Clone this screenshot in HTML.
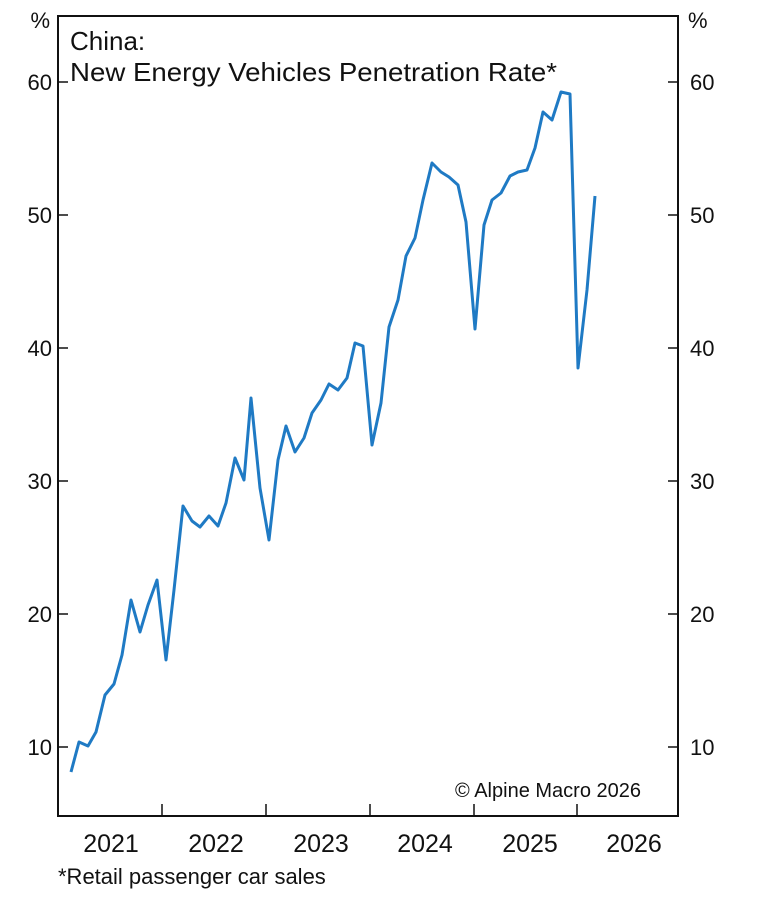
<!DOCTYPE html>
<html><head><style>
body{margin:0;background:#fff;}
svg text{font-family:"Liberation Sans",Arial,sans-serif;fill:#111;}
</style></head><body>
<svg width="768" height="892" viewBox="0 0 768 892" xmlns="http://www.w3.org/2000/svg">
<rect x="58" y="16" width="620" height="800" fill="none" stroke="#111" stroke-width="2"/>
<g stroke="#111" stroke-width="1.5">
<line x1="58" y1="82" x2="68" y2="82"/><line x1="58" y1="215" x2="68" y2="215"/><line x1="58" y1="348" x2="68" y2="348"/><line x1="58" y1="481" x2="68" y2="481"/><line x1="58" y1="614" x2="68" y2="614"/><line x1="58" y1="747" x2="68" y2="747"/>
<line x1="668" y1="82" x2="678" y2="82"/><line x1="668" y1="215" x2="678" y2="215"/><line x1="668" y1="348" x2="678" y2="348"/><line x1="668" y1="481" x2="678" y2="481"/><line x1="668" y1="614" x2="678" y2="614"/><line x1="668" y1="747" x2="678" y2="747"/>
<line x1="162" y1="816" x2="162" y2="804"/><line x1="266" y1="816" x2="266" y2="804"/><line x1="370" y1="816" x2="370" y2="804"/><line x1="474" y1="816" x2="474" y2="804"/><line x1="577" y1="816" x2="577" y2="804"/>
</g>
<g font-size="22" text-anchor="end">
<text x="52" y="90">60</text><text x="52" y="223">50</text><text x="52" y="356">40</text><text x="52" y="489">30</text><text x="52" y="622">20</text><text x="52" y="755">10</text>
<text x="50" y="28">%</text>
</g>
<g font-size="22" text-anchor="start">
<text x="690" y="90">60</text><text x="690" y="223">50</text><text x="690" y="356">40</text><text x="690" y="489">30</text><text x="690" y="622">20</text><text x="690" y="755">10</text>
<text x="688" y="28">%</text>
</g>
<g font-size="25" text-anchor="middle">
<text x="111" y="852">2021</text><text x="216" y="852">2022</text><text x="321" y="852">2023</text><text x="425" y="852">2024</text><text x="530" y="852">2025</text><text x="634" y="852">2026</text>
</g>
<text x="70" y="50" font-size="26">China:</text>
<text x="70" y="81" font-size="26" textLength="487" lengthAdjust="spacingAndGlyphs">New Energy Vehicles Penetration Rate*</text>
<text x="641" y="797" font-size="20" text-anchor="end">© Alpine Macro 2026</text>
<text x="58" y="884" font-size="22">*Retail passenger car sales</text>
<polyline fill="none" stroke="#1f7ac4" stroke-width="3" stroke-linejoin="round" points="71,772 79,742 88,746 96,732 105,695 114,684 122,655 131,600 140,632 148,605 157,580 166,660 174,590 183,506 192,521 200,527 209,516 218,526 226,503 235,458 244,480 251,398 260,488 269,540 278,460 286,426 295,452 304,438 312,413 321,400 329,384 338,390 347,378 355,343 363,346 372,445 381,403 389,327 398,300 406,256 415,238 423,200 432,163 441,172 449,177 458,185 466,222 475,329 484,225 492,200 501,193 510,176 518,172 527,170 535,148 543,112 552,120 561,92 570,94 578,368 587,290 595,196"/>
</svg>
</body></html>
